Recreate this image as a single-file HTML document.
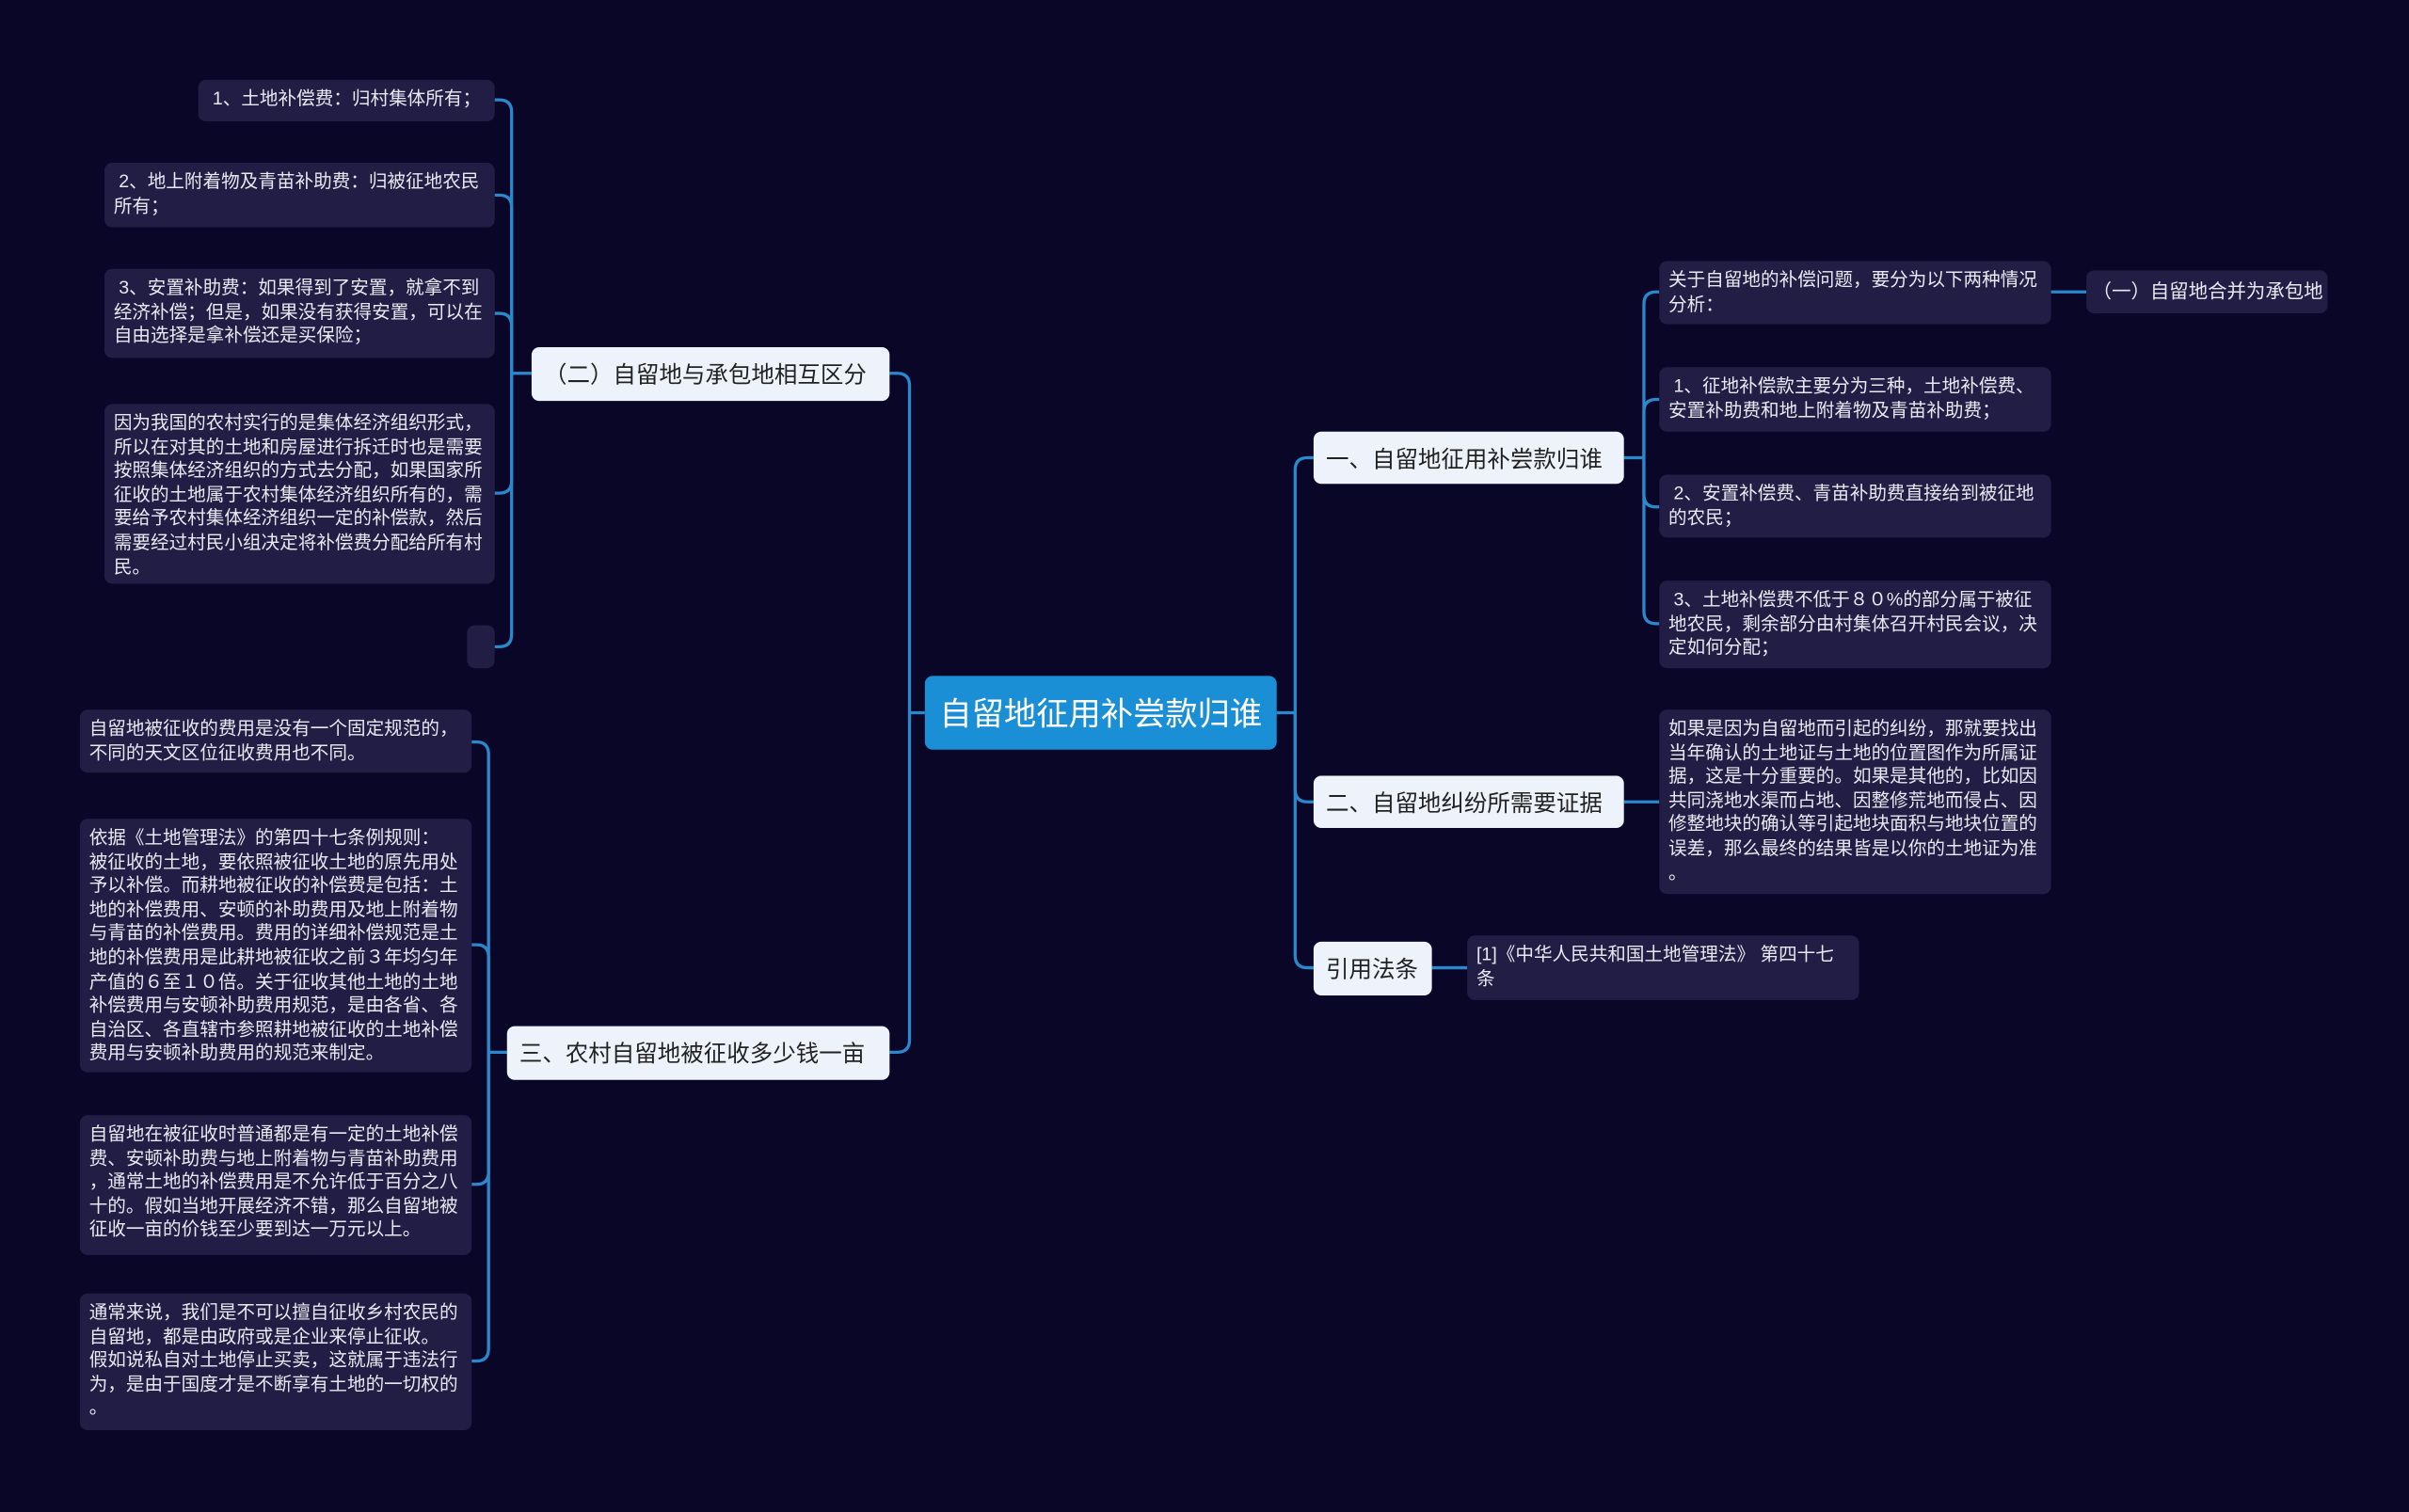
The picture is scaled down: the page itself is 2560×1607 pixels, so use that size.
<!DOCTYPE html>
<html><head><meta charset="utf-8">
<style>
html,body{margin:0;padding:0;background:#0a0628;width:2560px;height:1607px;overflow:hidden}
#w{position:absolute;left:0;top:0;width:1568px;height:984px;transform:scale(1.63265);transform-origin:0 0;font-family:"Liberation Sans","Noto Sans CJK SC",sans-serif}
.n{position:absolute;box-sizing:border-box;border-radius:5px}
.leaf{background:#221d45;color:#e8e8f0;font-size:12px;line-height:15.6px;padding:5px 6px;white-space:nowrap;overflow:visible}
.br{background:#eef3fb;color:#222;font-size:15px;display:flex;align-items:center;padding:0 8px;white-space:nowrap}
.root{background:#1a8fd6;color:#fff;font-size:21px;display:flex;align-items:center;justify-content:center}
svg{position:absolute;left:0;top:0}
</style></head><body><div id="w">
<svg width="1568" height="984" fill="none" stroke="#2a88cc" stroke-width="2">
<path d="M831 464 H843"/>
<path d="M843 464 V306 Q843 298 851 298 H855"/>
<path d="M843 464 V514 Q843 522 851 522 H855"/>
<path d="M843 464 V622 Q843 630 851 630 H855"/>
<path d="M602 464 H592"/>
<path d="M592 464 V251 Q592 243 584 243 H579"/>
<path d="M592 464 V677 Q592 685 584 685 H579"/>
<path d="M1057 298 H1070"/>
<path d="M1070 298 V198 Q1070 190 1078 190 H1080"/>
<path d="M1070 298 V268 Q1070 260 1078 260 H1080"/>
<path d="M1070 298 V322 Q1070 330 1078 330 H1080"/>
<path d="M1070 298 V398 Q1070 406 1078 406 H1080"/>
<path d="M1335 190 H1358"/>
<path d="M1057 522 H1080"/>
<path d="M932 630 H955"/>
<path d="M346 243 H333"/>
<path d="M333 243 V73 Q333 65 325 65 H322"/>
<path d="M333 243 V135 Q333 127 325 127 H322"/>
<path d="M333 243 V212 Q333 204 325 204 H322"/>
<path d="M333 243 V313 Q333 321 325 321 H322"/>
<path d="M333 243 V413 Q333 421 325 421 H322"/>
<path d="M330 685 H318"/>
<path d="M318 685 V491 Q318 483 310 483 H307"/>
<path d="M318 685 V623 Q318 615 310 615 H307"/>
<path d="M318 685 V763 Q318 771 310 771 H307"/>
<path d="M318 685 V878 Q318 886 310 886 H307"/>
</svg>

<div class="n root" style="left:602px;top:440px;width:229px;height:48px">自留地征用补尝款归谁</div>

<div class="n br" style="left:855px;top:281px;width:202px;height:34px">一、自留地征用补尝款归谁</div>
<div class="n br" style="left:855px;top:505px;width:202px;height:34px">二、自留地纠纷所需要证据</div>
<div class="n br" style="left:855px;top:613px;width:77px;height:35px">引用法条</div>
<div class="n br" style="left:346px;top:226px;width:233px;height:35px">（二）自留地与承包地相互区分</div>
<div class="n br" style="left:330px;top:668px;width:249px;height:35px">三、农村自留地被征收多少钱一亩</div>

<div class="n leaf" style="left:1080px;top:170px;width:255px;height:41px">关于自留地的补偿问题，要分为以下两种情况<br>分析：</div>
<div class="n leaf" style="left:1358px;top:176px;width:157px;height:28px;font-size:12.5px;line-height:18px;padding:5px 4px">（一）自留地合并为承包地</div>
<div class="n leaf" style="left:1080px;top:239px;width:255px;height:42px">&nbsp;1、征地补偿款主要分为三种，土地补偿费、<br>安置补助费和地上附着物及青苗补助费；</div>
<div class="n leaf" style="left:1080px;top:309px;width:255px;height:41px">&nbsp;2、安置补偿费、青苗补助费直接给到被征地<br>的农民；</div>
<div class="n leaf" style="left:1080px;top:378px;width:255px;height:57px">&nbsp;3、土地补偿费不低于８０%的部分属于被征<br>地农民，剩余部分由村集体召开村民会议，决<br>定如何分配；</div>
<div class="n leaf" style="left:1080px;top:462px;width:255px;height:120px">如果是因为自留地而引起的纠纷，那就要找出<br>当年确认的土地证与土地的位置图作为所属证<br>据，这是十分重要的。如果是其他的，比如因<br>共同浇地水渠而占地、因整修荒地而侵占、因<br>修整地块的确认等引起地块面积与地块位置的<br>误差，那么最终的结果皆是以你的土地证为准<br>。</div>
<div class="n leaf" style="left:955px;top:609px;width:255px;height:42px">[1]《中华人民共和国土地管理法》 第四十七<br>条</div>

<div class="n leaf" style="left:129px;top:52px;width:193px;height:27px">&nbsp;1、土地补偿费：归村集体所有；</div>
<div class="n leaf" style="left:68px;top:106px;width:254px;height:42px">&nbsp;2、地上附着物及青苗补助费：归被征地农民<br>所有；</div>
<div class="n leaf" style="left:68px;top:175px;width:254px;height:58px">&nbsp;3、安置补助费：如果得到了安置，就拿不到<br>经济补偿；但是，如果没有获得安置，可以在<br>自由选择是拿补偿还是买保险；</div>
<div class="n leaf" style="left:68px;top:263px;width:254px;height:117px">因为我国的农村实行的是集体经济组织形式，<br>所以在对其的土地和房屋进行拆迁时也是需要<br>按照集体经济组织的方式去分配，如果国家所<br>征收的土地属于农村集体经济组织所有的，需<br>要给予农村集体经济组织一定的补偿款，然后<br>需要经过村民小组决定将补偿费分配给所有村<br>民。</div>
<div class="n leaf" style="left:304px;top:407px;width:18px;height:28px"></div>

<div class="n leaf" style="left:52px;top:462px;width:255px;height:41px">自留地被征收的费用是没有一个固定规范的，<br>不同的天文区位征收费用也不同。</div>
<div class="n leaf" style="left:52px;top:533px;width:255px;height:165px">依据《土地管理法》的第四十七条例规则：<br>被征收的土地，要依照被征收土地的原先用处<br>予以补偿。而耕地被征收的补偿费是包括：土<br>地的补偿费用、安顿的补助费用及地上附着物<br>与青苗的补偿费用。费用的详细补偿规范是土<br>地的补偿费用是此耕地被征收之前３年均匀年<br>产值的６至１０倍。关于征收其他土地的土地<br>补偿费用与安顿补助费用规范，是由各省、各<br>自治区、各直辖市参照耕地被征收的土地补偿<br>费用与安顿补助费用的规范来制定。</div>
<div class="n leaf" style="left:52px;top:726px;width:255px;height:91px">自留地在被征收时普通都是有一定的土地补偿<br>费、安顿补助费与地上附着物与青苗补助费用<br>，通常土地的补偿费用是不允许低于百分之八<br>十的。假如当地开展经济不错，那么自留地被<br>征收一亩的价钱至少要到达一万元以上。</div>
<div class="n leaf" style="left:52px;top:842px;width:255px;height:89px">通常来说，我们是不可以擅自征收乡村农民的<br>自留地，都是由政府或是企业来停止征收。<br>假如说私自对土地停止买卖，这就属于违法行<br>为，是由于国度才是不断享有土地的一切权的<br>。</div>
</div></body></html>
